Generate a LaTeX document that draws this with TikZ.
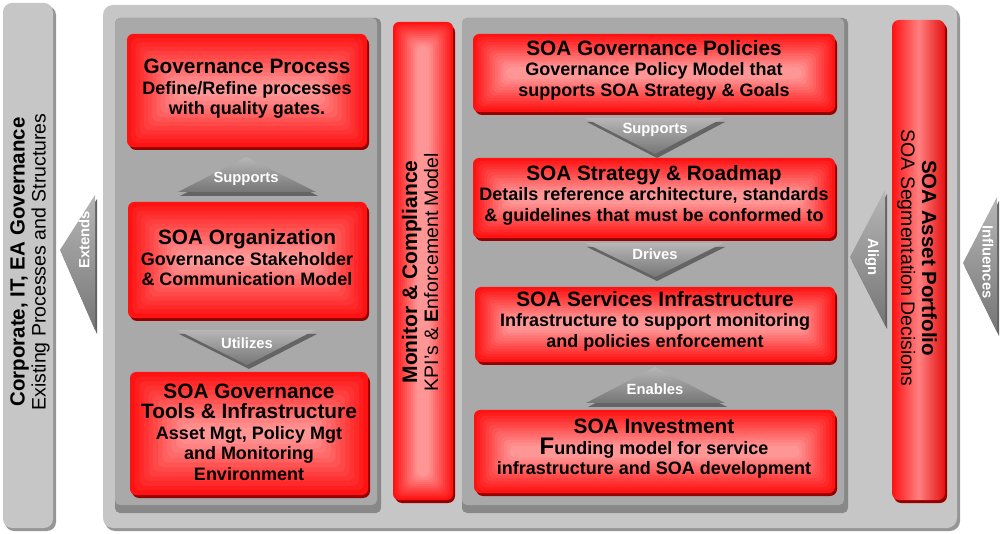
\documentclass[tikz,border=0pt]{standalone}
\usepackage{fontspec}
\setmainfont{Liberation Sans}
\definecolor{outerg}{RGB}{198,198,198}
\definecolor{outersh}{RGB}{150,150,150}
\definecolor{innerg}{RGB}{169,169,169}
\definecolor{innersh}{RGB}{136,136,136}
\definecolor{boxred}{RGB}{255,18,18}
\definecolor{boxlight}{RGB}{255,150,150}
\definecolor{boxsh}{RGB}{150,0,0}
\definecolor{arrlight}{RGB}{182,182,182}
\definecolor{arrdark}{RGB}{118,118,118}
\definecolor{arrsh}{RGB}{100,100,100}
\tikzset{
  boxtext/.style={align=center, text=black, font=\bfseries\fontsize{18}{20.5}\selectfont},
  arrlabel/.style={text=white, font=\bfseries\fontsize{14.8}{16}\selectfont},
  sidetext/.style={align=center, text=black, font=\fontsize{19.5}{21}\selectfont},
}
\newcommand{\ttl}[1]{{\fontsize{20.8}{20.5}\selectfont #1}}
\newcommand{\glowbox}[4]{%
  \fill[boxsh, rounded corners=7pt] (#1+2,#2+3) rectangle (#3+2,#4+3);
  \pgfmathsetmacro\gw{#3-#1}\pgfmathsetmacro\gh{#4-#2}%
  \pgfmathsetmacro\gmax{min(\gw,\gh)/2-6}%
  \foreach \k in {0,...,12}{%
    \pgfmathsetmacro\ins{\gmax*\k/12}%
    \pgfmathtruncatemacro\pct{100-\k*100/12}%
    \fill[boxred!\pct!boxlight, rounded corners=6pt] (#1+\ins,#2+\ins) rectangle (#3-\ins,#4-\ins);
  }}
% triangle: three corner points, shadow offset
\newcommand{\arrtri}[6]{%
  \fill[arrsh] (#1+2,#2+4) -- (#3+2,#4+4) -- (#5+2,#6+4) -- cycle;
  \shade[top color=arrlight, bottom color=arrdark] (#1,#2) -- (#3,#4) -- (#5,#6) -- cycle;}
\begin{document}
\begin{tikzpicture}[x=1pt,y=-1pt]
\useasboundingbox (0,0) rectangle (1004,534);
% left side panel
\fill[outersh, rounded corners=9pt] (5,6) rectangle (56,531);
\fill[outerg, rounded corners=9pt] (3,3) rectangle (53,528);
\node[sidetext, rotate=90] (corp) at (30,262) {{\bfseries\fontsize{20.5}{21}\selectfont Corporate, IT, EA Governance}\\Existing Processes and Structures};
% outer main panel
\fill[outersh, rounded corners=10pt] (105,8) rectangle (960,531);
\fill[outerg, rounded corners=10pt] (103,5) rectangle (957,528);
% inner panels
\fill[innersh, rounded corners=5pt] (115,18) rectangle (381,513);
\fill[innerg, rounded corners=5pt] (115,18) rectangle (377,505);
\fill[innersh, rounded corners=5pt] (462,18) rectangle (848,513);
\fill[innerg, rounded corners=5pt] (462,18) rectangle (844,505);
% red boxes
\glowbox{127}{34}{367}{147}
\node[boxtext] (gp) at (247,89) {\ttl{Governance Process}\\Define/Refine processes\\with quality gates.};
\glowbox{128}{202}{367}{318}
\node[boxtext] (org) at (247,258) {\ttl{SOA Organization}\\Governance Stakeholder\\\& Communication Model};
\glowbox{130}{372}{368}{495}
\node[boxtext] (tools) at (249,432) {\ttl{SOA Governance}\\\ttl{Tools \& Infrastructure}\\Asset Mgt, Policy Mgt\\and Monitoring\\Environment};
\glowbox{393}{22}{453}{500}
\node[sidetext, rotate=90] (mon) at (420,272) {{\bfseries\fontsize{21}{21}\selectfont Monitor \& Compliance}\\KPI's \& {\bfseries E}nforcement Model};
\glowbox{473}{34}{835}{112}
\node[boxtext] (pol) at (654,70) {\ttl{SOA Governance Policies}\\Governance Policy Model that\\supports SOA Strategy \& Goals};
\glowbox{473}{158}{835}{238}
\node[boxtext] (strat) at (654,195) {\ttl{SOA Strategy \& Roadmap}\\Details reference architecture, standards\\\& guidelines that must be conformed to};
\glowbox{475}{287}{835}{362}
\node[boxtext] (svc) at (655,321) {\ttl{SOA Services Infrastructure}\\Infrastructure to support monitoring\\and policies enforcement};
\glowbox{474}{410}{835}{493}
\node[boxtext] (inv) at (654,449) {\ttl{SOA Investment}\\{\fontsize{24}{20}\selectfont F}unding model for service\\infrastructure and SOA development};
% asset portfolio bar
\fill[boxsh, rounded corners=7pt] (894,23) rectangle (947,503);
\shade[rounded corners=7pt, left color=boxred, right color=boxred!90!black, middle color=boxlight!85!red] (892,20) rectangle (945,500);
\node[sidetext, rotate=-90] (asset) at (917,258) {{\bfseries\fontsize{20.5}{21}\selectfont SOA Asset Portfolio}\\SOA Segmentation Decisions};
% arrows
\arrtri{178}{192}{316}{192}{246}{157}
\node[arrlabel] (l1) at (246,179) {Supports};
\arrtri{177}{330}{315}{330}{247}{365}
\node[arrlabel] (l2) at (247,343) {Utilizes};
\arrtri{585}{118}{723}{118}{655}{154}
\node[arrlabel] (l3) at (655,130) {Supports};
\arrtri{585}{243}{723}{243}{655}{277}
\node[arrlabel] (l4) at (655,254) {Drives};
\arrtri{586}{403}{725}{403}{655}{367}
\node[arrlabel] (l5) at (655,389) {Enables};
\arrtri{95}{195}{95}{330}{60}{250}
\node[arrlabel, rotate=90] (l6) at (84,240) {Extends};
\arrtri{885}{190}{885}{325}{850}{257}
\node[arrlabel, rotate=-90] (l7) at (872,257) {Align};
\arrtri{997}{197}{997}{332}{963}{263}
\node[arrlabel, rotate=-90] (l8) at (988,262) {Influences};
\end{tikzpicture}
\end{document}
